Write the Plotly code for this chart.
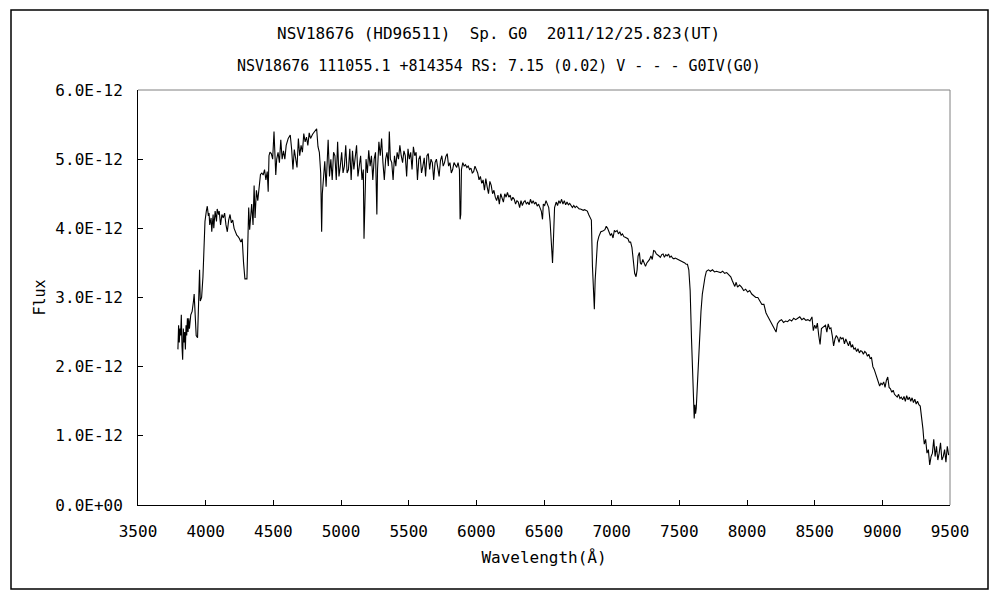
import plotly.graph_objects as go

# Spectrum (flux in units of 1E-12)
wavelength = [
3795,3800,3805,3810,3815,3820,3825,3830,3835,3840,3845,3850,3855,3860,3865,3870,3875,3880,3890,3900,
3910,3915,3920,3930,3940,3950,3955,3960,3970,3980,3988,3995,4005,4012,4020,4025,4030,4040,4045,4055,
4060,4070,4080,4085,4095,4100,4110,4120,4130,4140,4150,4160,4170,4180,4190,4200,4210,4220,4230,4240,
4250,4260,4270,4280,4290,4305,4312,4318,4325,4330,4340,4350,4358,4365,4375,4385,4395,4405,4415,4425,
4435,4445,4455,4462,4468,4475,4485,4495,4505,4512,4518,4525,4535,4545,4555,4565,4575,4585,4595,4610,
4625,4635,4645,4655,4665,4675,4685,4695,4705,4715,4725,4735,4745,4755,4765,4775,4790,4805,4820,4830,
4840,4850,4857,4862,4870,4880,4890,4900,4905,4915,4925,4935,4945,4955,4965,4975,4985,4995,5005,5015,
5025,5035,5045,5055,5065,5075,5085,5095,5105,5115,5125,5135,5145,5155,5165,5170,5178,5185,5195,5205,
5215,5225,5235,5245,5255,5265,5270,5280,5290,5300,5310,5320,5330,5340,5350,5357,5365,5375,5385,5395,
5405,5415,5425,5435,5445,5455,5465,5475,5485,5495,5505,5515,5525,5535,5545,5555,5565,5575,5585,5595,
5605,5615,5625,5635,5645,5655,5665,5675,5685,5695,5705,5715,5725,5735,5745,5755,5765,5775,5785,5795,
5805,5815,5825,5835,5845,5855,5865,5875,5880,5885,5890,5900,5910,5920,5930,5940,5950,5960,5970,5980,
5990,6000,6010,6020,6030,6040,6050,6060,6070,6080,6090,6100,6110,6120,6130,6140,6150,6160,6170,6180,
6190,6200,6210,6220,6230,6240,6250,6260,6270,6280,6290,6300,6310,6320,6330,6340,6350,6360,6370,6380,
6390,6400,6410,6420,6430,6440,6450,6460,6470,6480,6489,6495,6505,6515,6525,6535,6545,6555,6563,6570,
6578,6590,6600,6610,6620,6630,6640,6650,6660,6670,6680,6690,6700,6710,6720,6730,6740,6750,6760,6770,
6780,6790,6800,6810,6820,6830,6840,6850,6858,6865,6872,6878,6885,6895,6905,6920,6935,6950,6960,6970,
6980,6990,7000,7010,7020,7030,7040,7050,7060,7070,7080,7090,7100,7110,7120,7130,7140,7150,7160,7170,
7180,7188,7195,7205,7212,7220,7230,7240,7250,7260,7270,7280,7290,7300,7310,7320,7330,7340,7350,7360,
7370,7380,7390,7400,7410,7420,7430,7440,7450,7460,7470,7480,7490,7500,7510,7520,7530,7540,7550,7560,
7570,7580,7590,7600,7605,7610,7615,7620,7625,7632,7640,7650,7660,7670,7680,7690,7700,7715,7730,7745,
7760,7775,7790,7805,7820,7835,7850,7865,7880,7890,7900,7910,7920,7930,7945,7960,7975,7990,8005,8020,
8035,8050,8065,8080,8095,8110,8125,8140,8155,8170,8185,8200,8215,8225,8240,8255,8270,8285,8300,8315,
8330,8345,8360,8375,8390,8405,8420,8435,8450,8465,8480,8490,8500,8510,8520,8530,8540,8550,8565,8580,
8590,8600,8610,8620,8630,8640,8650,8660,8670,8680,8690,8700,8710,8720,8730,8740,8750,8760,8770,8780,
8790,8800,8810,8820,8830,8840,8850,8860,8870,8880,8890,8900,8910,8920,8930,8940,8950,8960,8970,8980,
8990,9000,9010,9020,9030,9040,9050,9060,9070,9080,9090,9100,9110,9120,9130,9140,9150,9160,9170,9180,
9190,9200,9210,9220,9230,9240,9250,9260,9270,9280,9290,9300,9305,9310,9320,9330,9340,9350,9360,9370,
9380,9390,9400,9410,9420,9430,9440,9450,9460,9470,9480,9490,
]

flux_e12 = [
2.25,2.60,2.35,2.55,2.45,2.75,2.30,2.10,2.55,2.35,2.50,2.25,2.60,2.45,2.70,2.50,2.70,2.55,2.75,2.80,
2.95,3.05,2.85,2.45,2.42,2.90,3.40,2.95,3.00,3.30,3.75,4.10,4.25,4.32,4.18,4.22,4.05,4.15,3.95,4.20,
4.00,4.25,4.10,4.28,4.20,4.25,4.05,4.20,4.15,4.22,4.05,3.95,4.12,4.20,4.08,4.12,4.00,3.95,3.90,3.88,
3.85,3.80,3.85,3.50,3.27,3.27,3.70,4.30,3.98,4.10,4.35,4.05,4.62,4.15,4.55,4.40,4.65,4.78,4.80,4.77,
4.85,4.70,4.82,4.53,5.05,5.10,5.08,5.00,5.40,5.10,4.77,5.00,5.10,4.95,5.28,5.00,5.12,5.00,5.20,5.30,
5.35,5.15,4.85,5.14,4.98,4.88,5.30,5.05,5.20,5.10,5.37,5.25,5.32,5.20,5.38,5.30,5.36,5.40,5.44,5.18,
5.10,4.80,3.95,4.50,4.70,4.97,4.60,5.00,5.28,4.75,5.00,4.70,5.10,5.05,4.70,5.25,4.75,4.90,5.10,4.80,
4.90,5.20,4.80,4.85,5.15,4.70,5.12,4.85,5.00,5.20,4.75,4.95,5.05,4.70,4.85,3.85,4.30,5.00,4.80,5.13,
4.90,5.05,4.70,5.00,5.10,4.20,4.85,5.25,5.05,5.30,4.95,4.70,5.00,5.10,4.90,5.40,5.00,4.95,4.70,5.05,
4.90,5.10,5.00,5.20,5.05,4.95,5.12,5.05,4.75,5.15,5.00,5.10,4.85,5.18,5.05,5.10,4.70,5.00,5.05,4.80,
4.90,5.02,4.75,5.05,5.08,4.85,5.00,4.95,4.70,4.95,5.00,4.90,4.75,4.98,5.05,4.90,4.95,5.04,5.08,4.90,
4.95,4.80,4.85,4.95,4.90,4.88,4.95,4.85,4.13,4.20,4.85,4.95,4.90,4.92,4.88,4.90,4.85,4.87,4.80,4.82,
4.90,4.85,4.80,4.70,4.75,4.65,4.70,4.55,4.72,4.60,4.50,4.68,4.62,4.50,4.55,4.45,4.40,4.48,4.35,4.50,
4.42,4.38,4.50,4.45,4.52,4.45,4.48,4.40,4.45,4.42,4.35,4.40,4.38,4.30,4.40,4.33,4.38,4.40,4.35,4.38,
4.34,4.42,4.36,4.40,4.35,4.38,4.32,4.35,4.30,4.25,4.13,4.35,4.33,4.40,4.35,4.30,4.10,3.80,3.50,3.85,
4.30,4.38,4.33,4.40,4.36,4.42,4.35,4.40,4.34,4.38,4.34,4.36,4.32,4.30,4.33,4.30,4.32,4.30,4.28,4.28,
4.27,4.26,4.27,4.26,4.25,4.20,4.15,4.12,3.45,3.00,2.83,3.25,3.55,3.80,3.88,3.95,3.96,3.98,4.03,4.00,
3.95,3.90,3.92,3.86,3.97,3.95,3.97,3.92,3.95,3.90,3.92,3.88,3.87,3.86,3.85,3.80,3.80,3.72,3.55,3.35,
3.30,3.40,3.60,3.65,3.50,3.48,3.55,3.50,3.45,3.50,3.52,3.55,3.60,3.55,3.68,3.67,3.63,3.62,3.60,3.58,
3.62,3.63,3.58,3.62,3.60,3.63,3.58,3.60,3.57,3.56,3.57,3.56,3.55,3.55,3.54,3.52,3.52,3.50,3.48,3.48,
3.40,3.10,2.40,1.80,1.40,1.25,1.45,1.32,1.40,1.70,2.00,2.40,2.80,3.05,3.20,3.30,3.38,3.40,3.38,3.40,
3.37,3.38,3.37,3.36,3.38,3.35,3.36,3.33,3.30,3.25,3.20,3.16,3.22,3.15,3.18,3.15,3.10,3.12,3.08,3.10,
3.05,3.02,3.00,3.00,2.95,2.90,2.90,2.78,2.72,2.66,2.60,2.56,2.50,2.62,2.66,2.68,2.64,2.66,2.65,2.68,
2.66,2.70,2.68,2.70,2.72,2.68,2.70,2.67,2.68,2.66,2.72,2.52,2.60,2.55,2.63,2.45,2.32,2.55,2.58,2.60,
2.50,2.62,2.55,2.56,2.45,2.30,2.40,2.45,2.42,2.35,2.43,2.40,2.42,2.33,2.40,2.35,2.30,2.37,2.28,2.32,
2.25,2.27,2.22,2.26,2.20,2.23,2.22,2.18,2.22,2.20,2.15,2.18,2.12,2.13,2.00,1.96,1.90,1.85,1.80,1.72,
1.76,1.74,1.78,1.70,1.80,1.85,1.70,1.68,1.63,1.66,1.60,1.58,1.56,1.60,1.54,1.56,1.52,1.57,1.50,1.58,
1.52,1.56,1.50,1.55,1.48,1.53,1.46,1.50,1.45,1.43,1.30,1.10,0.98,0.88,0.95,0.75,0.80,0.58,0.70,0.75,
0.95,0.70,0.85,0.65,0.75,0.90,0.65,0.70,0.80,0.62,0.85,0.72,
]

x_ticks = [3500,4000,4500,5000,5500,6000,6500,7000,7500,8000,8500,9000,9500]
y_ticks = [0,1,2,3,4,5,6]
y_tick_labels = ["0.0E+00","1.0E-12","2.0E-12","3.0E-12","4.0E-12","5.0E-12","6.0E-12"]

title_line1 = "NSV18676 (HD96511)  Sp. G0  2011/12/25.823(UT)"
title_line2 = "NSV18676 111055.1 +814354 RS: 7.15 (0.02) V - - - G0IV(G0)"

FONT = "DejaVu Sans Mono"

fig = go.Figure()
fig.add_trace(go.Scatter(x=wavelength, y=flux_e12, mode="lines",
                         line=dict(color="black", width=1.1), showlegend=False,
                         hoverinfo="x+y"))

fig.update_layout(
    width=1000, height=600,
    # page body adds an 8px offset; margins compensate so the plot area lands at 138..950 x 90..505
    margin=dict(l=130, r=58, t=82, b=103),
    paper_bgcolor="white", plot_bgcolor="white",
    font=dict(family=FONT, size=16, color="black"),
    xaxis=dict(range=[3500, 9500], tickvals=x_ticks, ticktext=[str(v) for v in x_ticks],
               showgrid=False, zeroline=False, showline=True, linecolor="black", linewidth=1,
               ticks="inside", ticklen=5, tickcolor="black", tickfont=dict(size=16),
               ticklabelstandoff=12,
               title=dict(text="Wavelength(\u212B)", font=dict(size=16), standoff=11),
               mirror=False),
    yaxis=dict(range=[0, 6], tickvals=y_ticks, ticktext=y_tick_labels,
               showgrid=False, zeroline=False, showline=True, linecolor="black", linewidth=1,
               ticks="inside", ticklen=5, tickcolor="black", tickfont=dict(size=16),
               ticklabelstandoff=11,
               title=dict(text="Flux", font=dict(size=15), standoff=6)),
    shapes=[
        # gray frame of the plot area (top and right)
        dict(type="line", xref="paper", yref="paper", x0=0, x1=1, y0=1, y1=1,
             line=dict(color="#808080", width=1)),
        dict(type="line", xref="paper", yref="paper", x0=1, x1=1, y0=0, y1=1,
             line=dict(color="#808080", width=1)),
        # outer chart border
        dict(type="rect", xref="paper", yref="paper", x0=-0.1564, x1=1.0468,
             y0=-0.2024, y1=1.1928, line=dict(color="black", width=1.5)),
    ],
    annotations=[
        dict(text=title_line1, xref="paper", yref="paper", x=0.444, y=1.137,
             yanchor="middle", showarrow=False, font=dict(size=16)),
        dict(text=title_line2, xref="paper", yref="paper", x=0.444, y=1.058,
             yanchor="middle", showarrow=False, font=dict(size=15)),
    ],
)

fig.write_html("out.html")
